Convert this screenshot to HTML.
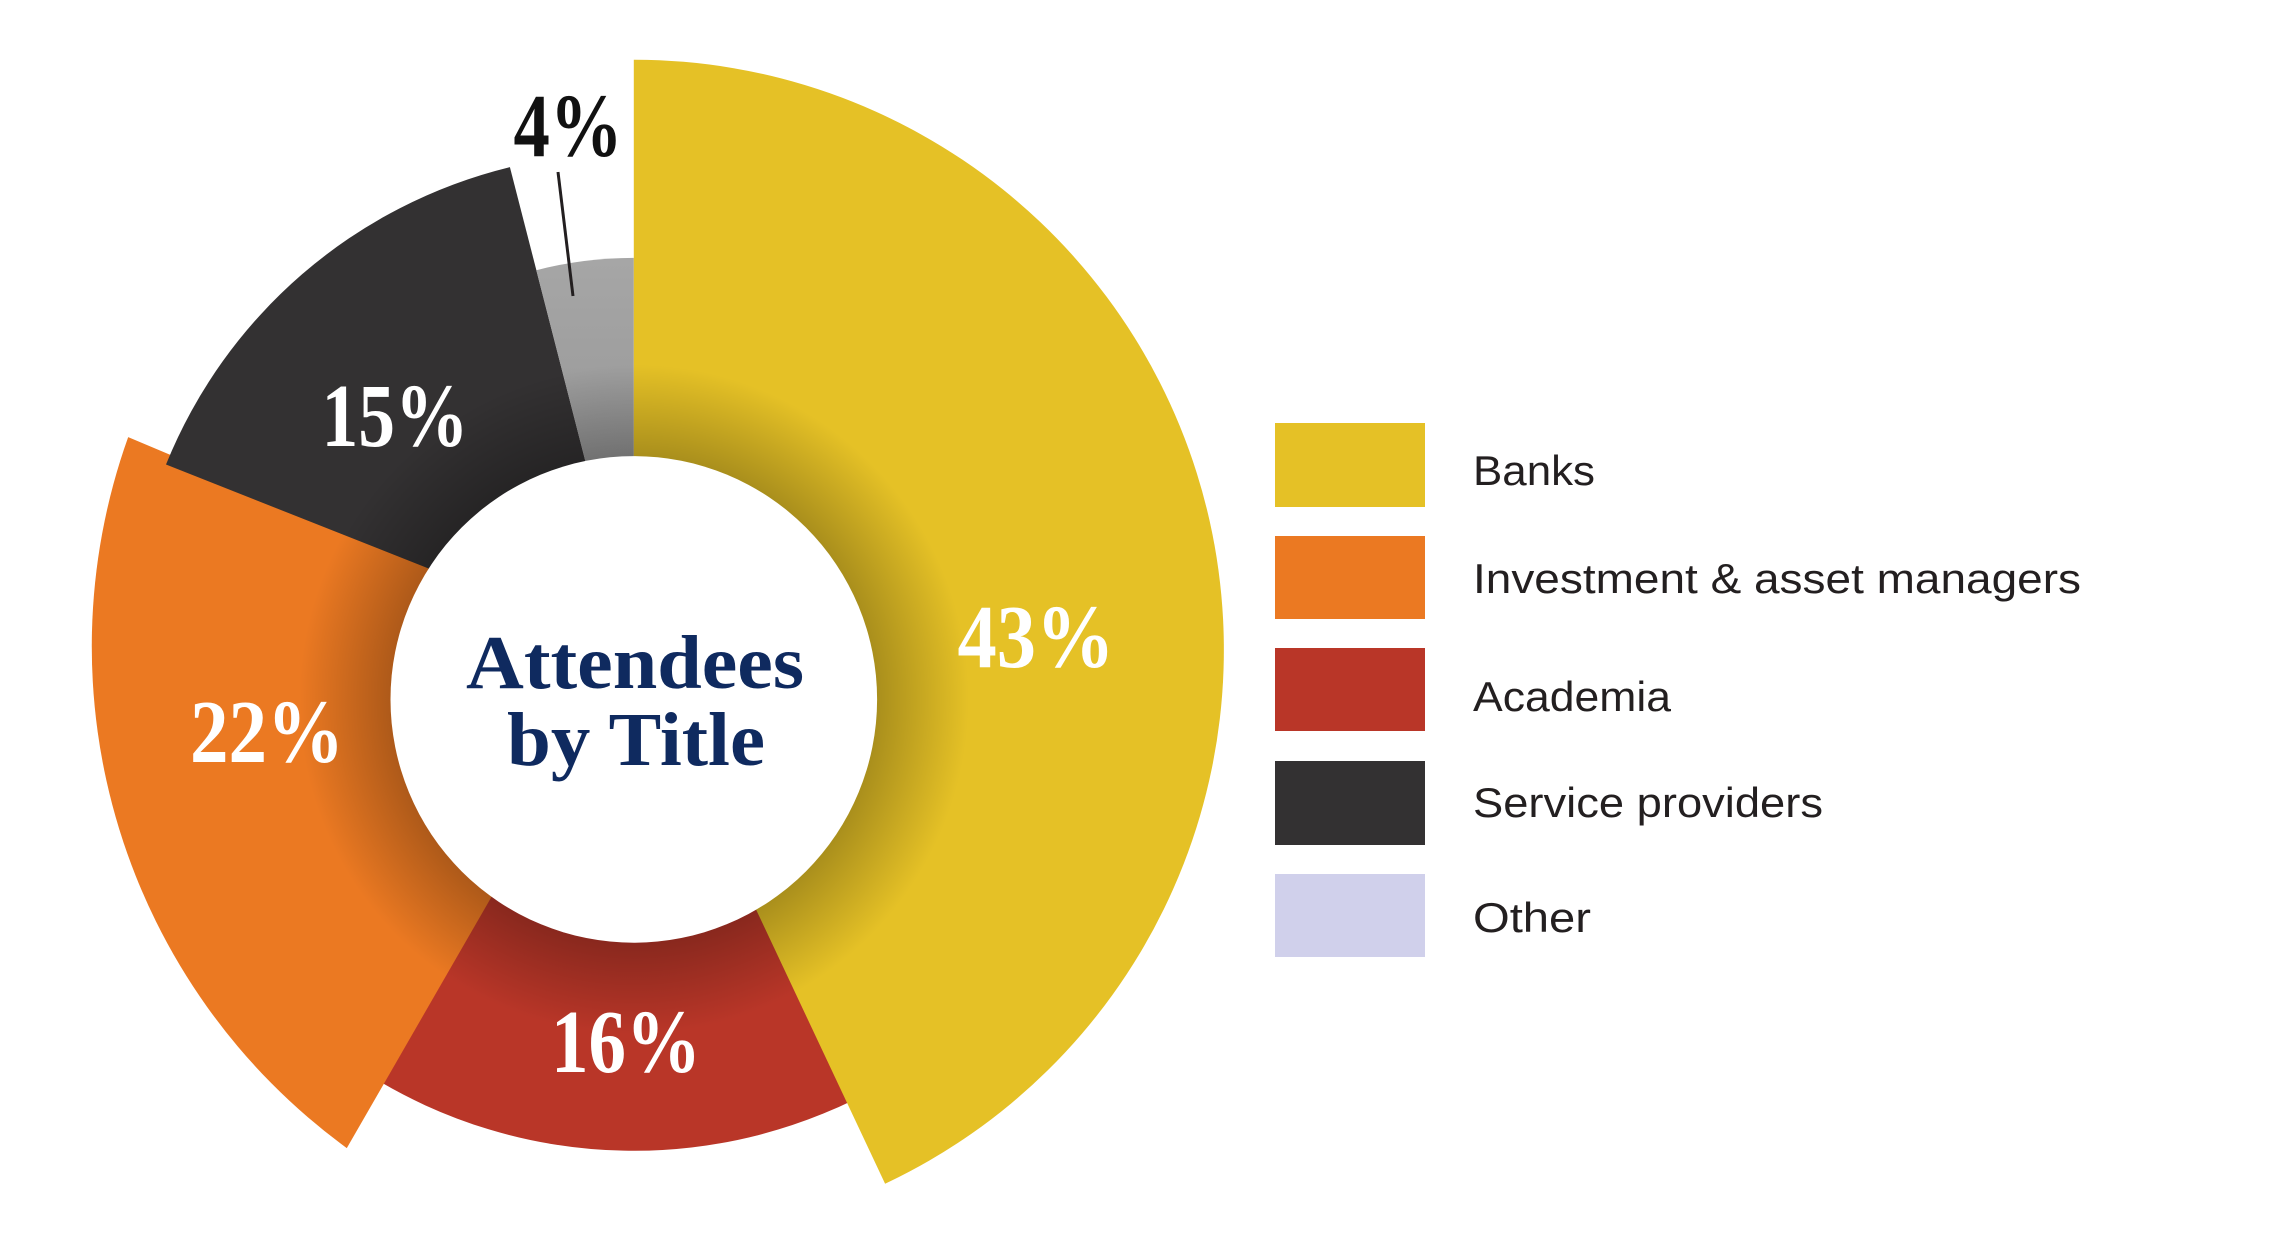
<!DOCTYPE html>
<html><head><meta charset="utf-8"><style>
html,body{margin:0;padding:0;background:#fff;}
svg{display:block;}
</style></head><body>
<svg width="2282" height="1259" viewBox="0 0 2282 1259" xmlns="http://www.w3.org/2000/svg">
<defs>
<linearGradient id="gg" x1="0" y1="0" x2="0" y2="1"><stop offset="0" stop-color="#a6a6a6"/><stop offset="1" stop-color="#8c8c8c"/></linearGradient>
<radialGradient id="sh" gradientUnits="userSpaceOnUse" cx="633.8" cy="699.4" r="335">
<stop offset="0" stop-color="#000" stop-opacity="0.26"/>
<stop offset="0.726" stop-color="#000" stop-opacity="0.26"/>
<stop offset="1" stop-color="#000" stop-opacity="0"/>
</radialGradient>
</defs>
<path d="M633.8,649.8 L884.3,1083.7 A501,501 0 0 1 365.4,1072.8 Z" fill="#b93628"/>
<path d="M633.8,649.8 L346.8,1148.1 A620.7,620.7 0 0 1 128.2,437.1 Z" fill="#eb7922"/>
<path d="M633.8,649.8 L166,464.5 A498.3,498.3 0 0 1 509.9,167.1 Z" fill="#333132"/>
<path d="M633.8,649.8 L536.3,270.2 A391.9,391.9 0 0 1 633.8,257.9 Z" fill="url(#gg)"/>
<path d="M633.8,649.8 L633.8,59.7 A590.1,590.1 0 0 1 885.1,1183.7 Z" fill="#e5c126"/>
<circle cx="633.8" cy="699.4" r="335" fill="url(#sh)"/>
<circle cx="633.8" cy="699.4" r="243.3" fill="#fff"/>
<line x1="558" y1="172" x2="573" y2="296" stroke="#231f20" stroke-width="3"/>
<g font-family="'Liberation Serif',serif" font-weight="bold" text-anchor="middle" font-size="90">
<text x="568" y="156" fill="#111" textLength="109" lengthAdjust="spacingAndGlyphs">4%</text>
<text x="1036" y="667" fill="#fff" textLength="157" lengthAdjust="spacingAndGlyphs">43%</text>
<text x="395" y="446" fill="#fff" textLength="147" lengthAdjust="spacingAndGlyphs">15%</text>
<text x="267" y="762" fill="#fff" textLength="154" lengthAdjust="spacingAndGlyphs">22%</text>
<text x="626" y="1072" fill="#fff" textLength="150" lengthAdjust="spacingAndGlyphs">16%</text>
<text x="635" y="688" font-size="76" fill="#0f2a5f" textLength="338" lengthAdjust="spacingAndGlyphs">Attendees</text>
<text x="636" y="765" font-size="76" fill="#0f2a5f" textLength="258" lengthAdjust="spacingAndGlyphs">by Title</text>
</g>
<rect x="1275" y="423" width="150" height="84" fill="#e5c126"/>
<rect x="1275" y="536" width="150" height="83" fill="#eb7922"/>
<rect x="1275" y="648" width="150" height="83" fill="#b93628"/>
<rect x="1275" y="761" width="150" height="84" fill="#333132"/>
<rect x="1275" y="874" width="150" height="83" fill="#d0d0eb"/>
<g font-family="'Liberation Sans',sans-serif" font-size="42" fill="#231f20">
<text x="1473" y="485" textLength="122" lengthAdjust="spacingAndGlyphs">Banks</text>
<text x="1473" y="593" textLength="608" lengthAdjust="spacingAndGlyphs">Investment &amp; asset managers</text>
<text x="1473" y="711" textLength="198" lengthAdjust="spacingAndGlyphs">Academia</text>
<text x="1473" y="817" textLength="350" lengthAdjust="spacingAndGlyphs">Service providers</text>
<text x="1473" y="932" textLength="118" lengthAdjust="spacingAndGlyphs">Other</text>
</g>
</svg>
</body></html>
